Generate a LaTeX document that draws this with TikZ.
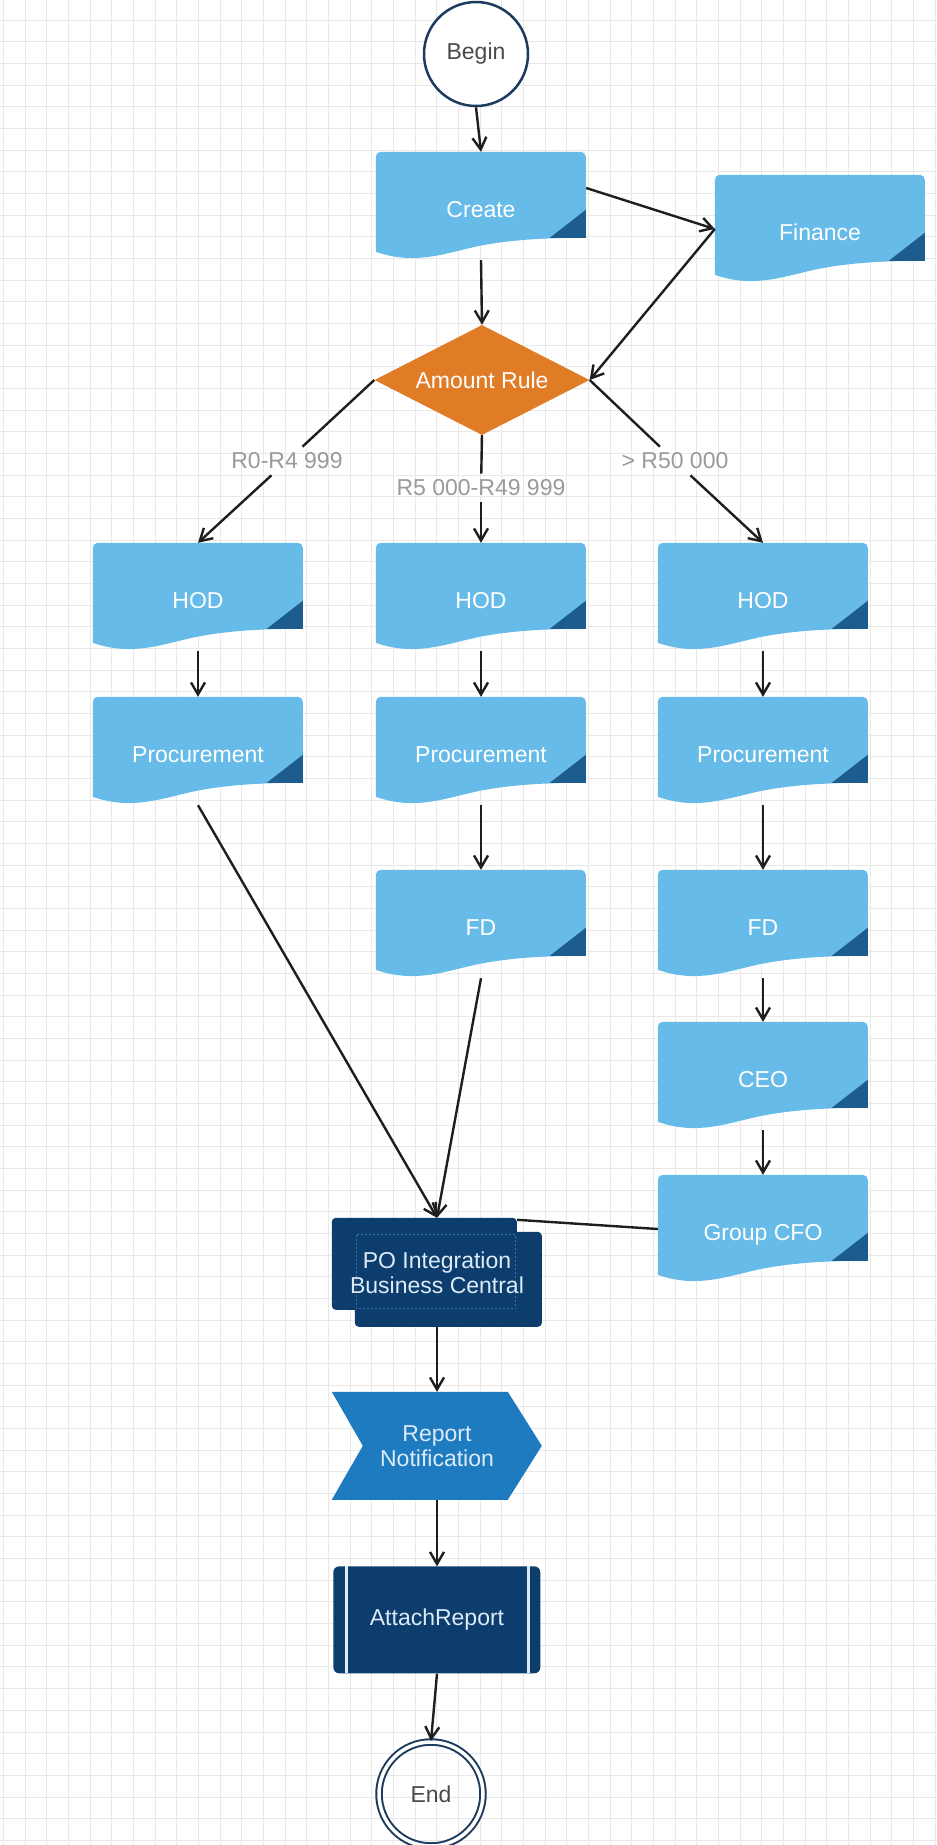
\documentclass[tikz,border=0pt]{standalone}
\usepackage{fontspec}
\setmainfont{Liberation Sans}
\usetikzlibrary{shapes.geometric,arrows.meta,calc}
\definecolor{docblue}{HTML}{67BBE8}
\definecolor{docdark}{HTML}{1D5D8E}
\definecolor{orng}{HTML}{E07B26}
\definecolor{navy}{HTML}{0D3D6C}
\definecolor{midblue}{HTML}{1E7BC0}
\definecolor{ltxt}{HTML}{DDEBF8}
\definecolor{dashc}{HTML}{3E73A6}
\definecolor{gridc}{HTML}{E8E8E8}
\definecolor{linec}{HTML}{1E1E1E}
\definecolor{circc}{HTML}{1C3B5E}
\definecolor{circtxt}{HTML}{4A4A4A}
\definecolor{lblc}{HTML}{9A9A9A}
\pgfdeclarelayer{gridlayer}
\pgfdeclarelayer{shapelayer}
\pgfsetlayers{gridlayer,shapelayer,main}
\tikzset{
  x=1pt, y=1pt,
  txtfont/.style={font=\fontsize{23}{25}\selectfont},
  docbox/.style={minimum width=210pt, minimum height=108pt, inner sep=0pt, text=white, txtfont,
    text height=23pt, text depth=1pt},
  rulebox/.style={diamond, shape aspect=2, fill=orng, minimum width=215pt, minimum height=110pt,
    inner sep=0pt, text=white, txtfont},
  startcirc/.style={circle, draw=circc, line width=2.5pt, fill=white, minimum size=104pt,
    inner sep=0pt, text=circtxt, txtfont},
  endcirc/.style={circle, draw=circc, line width=2pt, double=white, double distance=3.5pt,
    minimum size=104pt, inner sep=0pt, text=circtxt, txtfont},
  pobox/.style={minimum width=210pt, minimum height=109pt, inner sep=0pt, text=ltxt, align=center,
    txtfont},
  signalbox/.style={minimum width=210pt, minimum height=108pt, inner sep=0pt, text=ltxt, align=center,
    txtfont},
  subbox/.style={minimum width=207pt, minimum height=107pt, inner sep=0pt, text=ltxt, txtfont},
  lbl/.style={text=lblc, txtfont, inner sep=6pt},
  ln/.style={draw=linec, line width=2.4pt},
  arr/.style={ln, -{Straight Barb[length=12pt,width=14pt,line width=2.4pt]}},
  gridminor/.style={draw=gridc, line width=0.9pt}
}
\begin{document}
\begin{tikzpicture}
\useasboundingbox (0,0) rectangle (937,-1845);
\begin{pgfonlayer}{gridlayer}
\fill[white] (0,0) rectangle (937,-1845);
\begin{scope}
\clip (0,0) rectangle (937,-1845);
\foreach \i in {0,...,43} { \draw[gridminor] ({3.3+21.67*\i},0) -- ({3.3+21.67*\i},-1845); }
\foreach \j in {0,...,85} { \draw[gridminor] (0,{-20-21.67*\j}) -- (937,{-20-21.67*\j}); }
\end{scope}
\end{pgfonlayer}

% nodes
\node[startcirc] (begin) at (476,-54) {Begin};
\node[docbox] (create) at (481,-206) {Create};
\node[docbox] (finance) at (820,-229) {Finance};
\node[rulebox] (rule) at (482,-380) {Amount Rule};

\node[docbox] (hod1) at (198,-597) {HOD};
\node[docbox] (hod2) at (481,-597) {HOD};
\node[docbox] (hod3) at (763,-597) {HOD};

\node[docbox] (proc1) at (198,-751) {Procurement};
\node[docbox] (proc2) at (481,-751) {Procurement};
\node[docbox] (proc3) at (763,-751) {Procurement};

\node[docbox] (fd2) at (481,-924) {FD};
\node[docbox] (fd3) at (763,-924) {FD};
\node[docbox] (ceo) at (763,-1076) {CEO};
\node[docbox] (cfo) at (763,-1229) {Group CFO};

\node[pobox] (po) at (437,-1272.5) {PO Integration\\Business Central};
\node[signalbox] (report) at (437,-1446) {Report\\Notification};
\node[subbox] (attach) at (437,-1620) {AttachReport};
\node[endcirc] (end) at (431,-1794) {End};

% shapes behind the texts
\begin{pgfonlayer}{shapelayer}
\foreach \n in {create,finance,hod1,hod2,hod3,proc1,proc2,proc3,fd2,fd3,ceo,cfo} {
  \begin{scope}[shift={(\n.north west)}]
    \fill[docblue] (0,-5) arc[start angle=180,end angle=90,radius=5] -- (205,0)
      arc[start angle=90,end angle=0,radius=5] -- (210,-86)
      .. controls (178,-86) and (140,-87) .. (104,-94)
      .. controls (70,-101) and (40,-114) .. (0,-100) -- cycle;
    \fill[docdark] (210,-86) -- (210,-58) -- (174,-86) -- cycle;
  \end{scope}
}
\begin{scope}[shift={(po.north west)}]
  \fill[navy, rounded corners=4pt] (0,0) rectangle (185,-92);
  \fill[navy, rounded corners=4pt] (23,-14) rectangle (210,-109);
  \draw[dashc, line width=0.8pt, dash pattern=on 2pt off 2pt] (25,-17) rectangle (184,-91);
\end{scope}
\begin{scope}[shift={(report.north west)}]
  \fill[midblue] (0,0) -- (176,0) -- (210,-54) -- (176,-108) -- (0,-108) -- (31,-54) -- cycle;
\end{scope}
\begin{scope}[shift={(attach.north west)}]
  \fill[navy, rounded corners=6pt] (0,0) rectangle (207,-107);
  \draw[ltxt, line width=2.5pt] (13,0) -- (13,-107);
  \draw[ltxt, line width=2.5pt] (195,0) -- (195,-107);
\end{scope}
\end{pgfonlayer}

% labels
\node[lbl] (l1) at (287,-461) {R0-R4 999};
\node[lbl] (l2) at (481,-488) {R5 000-R49 999};
\node[lbl] (l3) at (675,-461) {> R50 000};

% connectors
\draw[arr] (begin.south) -- (create.north);
\draw[arr] ([yshift=18pt]create.east) -- (finance.west);
\draw[arr] (finance.west) -- (rule.east);
\draw[arr] (create.south) -- (rule.north);

\draw[ln] (rule.west) -- (l1);
\draw[arr] (l1) -- (hod1.north);
\draw[ln] (rule.south) -- (l2);
\draw[arr] (l2) -- (hod2.north);
\draw[ln] (rule.east) -- (l3);
\draw[arr] (l3) -- (hod3.north);

\draw[arr] (hod1.south) -- (proc1.north);
\draw[arr] (hod2.south) -- (proc2.north);
\draw[arr] (hod3.south) -- (proc3.north);

\draw[arr] (proc2.south) -- (fd2.north);
\draw[arr] (proc3.south) -- (fd3.north);
\draw[arr] (fd3.south) -- (ceo.north);
\draw[arr] (ceo.south) -- (cfo.north);

\draw[arr] (proc1.south) -- (po.north);
\draw[arr] (fd2.south) -- (po.north);
\draw[ln] (cfo.west) -- ([xshift=-25pt,yshift=-2pt]po.north east);

\draw[arr] (po.south) -- (report.north);
\draw[arr] (report.south) -- (attach.north);
\draw[arr] (attach.south) -- (end.north);
\end{tikzpicture}
\end{document}
